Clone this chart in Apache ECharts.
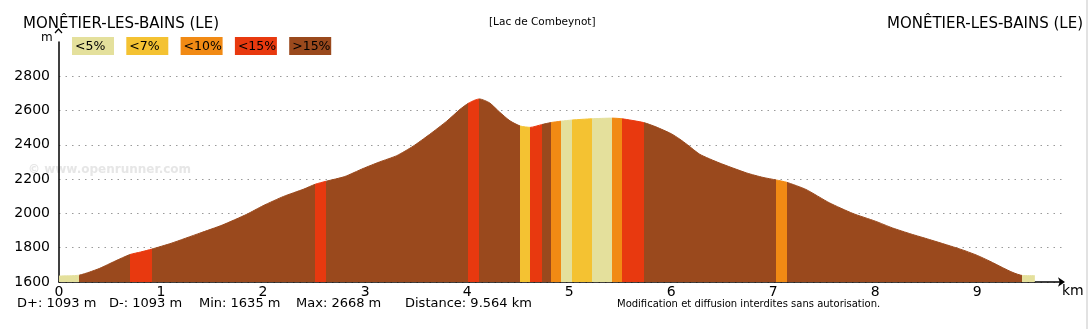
<!DOCTYPE html>
<html>
<head>
<meta charset="utf-8">
<script src="https://cdn.jsdelivr.net/npm/echarts@6/dist/echarts.min.js"></script>
<style>
html,body{margin:0;padding:0;background:#fff;}
#chart{width:1089px;height:329px;}
</style>
</head>
<body>
<div id="chart"></div>
<script>
// ---- data ----
const distKm = [0,0.1,0.2,0.3,0.4,0.55,0.695,0.8,0.91,1.1,1.38,1.6,1.84,2.0,2.2,2.4,2.51,2.62,2.8,2.98,3.14,3.31,3.47,3.63,3.8,3.93,4.01,4.08,4.12,4.22,4.32,4.42,4.52,4.62,4.73,4.82,4.92,5.03,5.22,5.42,5.52,5.73,5.85,6.0,6.08,6.16,6.28,6.47,6.74,6.9,7.03,7.13,7.32,7.55,7.78,8.0,8.17,8.35,8.53,8.79,8.89,9.0,9.12,9.25,9.35,9.44,9.564];
const elevM  = [1635,1636,1640,1658,1680,1722,1760,1775,1792,1826,1885,1932,1995,2045,2099,2142,2170,2188,2215,2262,2300,2337,2392,2460,2538,2607,2642,2662,2668,2645,2590,2540,2510,2502,2518,2530,2538,2545,2552,2556,2552,2530,2505,2465,2435,2400,2345,2295,2236,2210,2195,2182,2140,2062,2000,1955,1915,1880,1848,1800,1780,1755,1722,1683,1655,1638,1637];
// grade sections: start km of each section (last value = end of track), and class index
const sectionBreaksKm = [0,0.2,0.695,0.91,2.51,2.62,4.01,4.12,4.52,4.62,4.73,4.82,4.92,5.03,5.22,5.42,5.52,5.73,7.03,7.13,9.44,9.564];
const sectionClass    = [0,4,3,4,3,4,3,4,1,3,4,2,0,1,0,2,3,4,2,4,0];
const legendLabels = ['<5%','<7%','<10%','<15%','>15%'];
const classColors  = ['#e4e09c','#f4c232','#f18a14','#e8390f','#9a491d'];
const yTickLabels = ['1600','1800','2000','2200','2400','2600','2800'];
const stats = ['D+: 1093 m','D-: 1093 m','Min: 1635 m','Max: 2668 m','Distance: 9.564 km'];
const startName = 'MONÊTIER-LES-BAINS (LE)';
const endName = 'MONÊTIER-LES-BAINS (LE)';
const viaName = '[Lac de Combeynot]';
const notice = 'Modification et diffusion interdites sans autorisation.';

// ---- build ----
const FONT = 'DejaVu Sans';
const seriesData = distKm.map((d,i)=>[d, elevM[i]]);
const pieces = sectionClass.map((c,i)=>{
  const p = {gte: sectionBreaksKm[i], color: classColors[c]};
  if (i === sectionClass.length-1) p.lte = sectionBreaksKm[i+1] + 1; else p.lt = sectionBreaksKm[i+1];
  return p;
});

const legendStartX = 72, legendStep = 54.3, legendY = 37;
const legendGraphics = legendLabels.map((t,i)=>({
  type:'group', left: legendStartX + i*legendStep, top: legendY,
  children:[
    {type:'rect', shape:{x:0,y:0,width:42,height:18}, style:{fill:classColors[i]}},
    {type:'text', x:3, y:9.5, style:{text:t, fill:'#000', font:'12.5px "'+FONT+'"', verticalAlign:'middle'}}
  ]
}));
const statX = [17,109,199,296,405];
const statGraphics = stats.map((t,i)=>({
  type:'text', left: statX[i], top: 297,
  style:{text:t, fill:'#000', font:'13px "'+FONT+'"'}
}));

const chart = echarts.init(document.getElementById('chart'), null, {renderer:'canvas'});
chart.setOption({
  animation:false,
  backgroundColor:'#fff',
  grid:{left:59, right:27, top:42, bottom:47, containLabel:false},
  xAxis:{
    type:'value', min:0, max:9.83, interval:1,
    axisLine:{show:true, lineStyle:{color:'#000', width:1.5}, symbol:['none','arrow'], symbolSize:[7,7], symbolOffset:[0,3]},
    axisTick:{show:false},
    splitLine:{show:false},
    axisLabel:{color:'#000', fontSize:14, fontFamily:FONT, margin:3, showMaxLabel:false}
  },
  yAxis:{
    type:'value', min:1600, max:3000, interval:200,
    axisLine:{show:true, lineStyle:{color:'#000', width:1.5}, symbol:['none','none']},
    axisTick:{show:false},
    splitLine:{show:true, showMaxLine:false, lineStyle:{color:'#9a9a9a', type:[1.5,5], width:1}},
    axisLabel:{color:'#000', fontSize:14, fontFamily:FONT, margin:9, showMaxLabel:false,
      padding:[0,0,6,0],
      formatter:(v)=>{const s=String(v); return yTickLabels.indexOf(s)>=0 ? s : '';}}
  },
  visualMap:{show:false, type:'piecewise', dimension:0, seriesIndex:0, pieces:pieces},
  series:[{
    type:'line', data:seriesData, smooth:0.2, symbol:'none',
    lineStyle:{width:1}, areaStyle:{opacity:1}, z:3
  }],
  graphic:[
    {type:'text', left:28, top:164, z:-1, style:{text:'© www.openrunner.com', fill:'#e6e6e6', font:'bold 12px "'+FONT+'"'}},
    {type:'text', left:23, top:17, style:{text:startName, fill:'#000', font:'15px "'+FONT+'"'}},
    {type:'text', right:6, top:17, style:{text:endName, fill:'#000', font:'15px "'+FONT+'"', align:'right'}},
    {type:'text', left:489, top:17, style:{text:viaName, fill:'#000', font:'10.5px "'+FONT+'"'}},
    {type:'text', left:41, top:32, style:{text:'m', fill:'#000', font:'12px "'+FONT+'"'}},
    {type:'polyline', shape:{points:[[55,33],[58.5,29],[62,33]]}, style:{stroke:'#000', lineWidth:1.2, fill:null}},
    {type:'text', left:1062, top:284, style:{text:'km', fill:'#000', font:'14px "'+FONT+'"'}},
    {type:'text', left:617, top:299, style:{text:notice, fill:'#000', font:'10px "'+FONT+'"'}},
    {type:'rect', left:1086, top:0, shape:{width:2,height:329}, style:{fill:'#e2e2e2'}},
    ...legendGraphics,
    ...statGraphics
  ]
});
</script>
</body>
</html>
